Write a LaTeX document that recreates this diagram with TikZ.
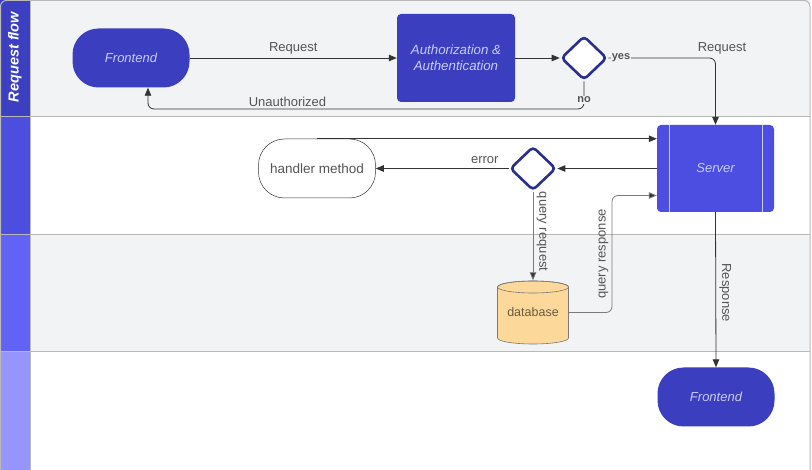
\documentclass[tikz,border=0pt]{standalone}
\usepackage{fontspec}
\setmainfont{Liberation Sans}
\usetikzlibrary{arrows.meta,shapes.geometric,calc}

\definecolor{laneA}{HTML}{3B3FC0}
\definecolor{laneB}{HTML}{4B4EDF}
\definecolor{laneC}{HTML}{6262F7}
\definecolor{laneD}{HTML}{9595FB}
\definecolor{bgGray}{HTML}{F2F3F5}
\definecolor{rule}{HTML}{B8B8B8}
\definecolor{nodeDark}{HTML}{3A3EBF}
\definecolor{nodeServer}{HTML}{4B4EE1}
\definecolor{lavender}{HTML}{CACCF7}
\definecolor{navy}{HTML}{2A2E8C}
\definecolor{ink}{HTML}{333333}
\definecolor{soft}{HTML}{7A7A7A}
\definecolor{labelgray}{HTML}{555555}
\definecolor{dbfill}{HTML}{FDD89B}
\definecolor{dbtext}{HTML}{6B5A3A}

\tikzset{
  pill/.style={rectangle, rounded corners=26pt, minimum width=117pt, minimum height=59pt, inner sep=0pt},
  darkpill/.style={pill, fill=nodeDark, text=lavender, font=\fontsize{13}{15}\selectfont\itshape},
  whitepill/.style={pill, draw=ink, line width=0.5pt, fill=white, text=labelgray, font=\fontsize{13.5}{15}\selectfont},
  taskbox/.style={rectangle, rounded corners=4pt, fill=nodeDark, text=lavender, align=center,
    minimum width=118pt, minimum height=88pt, font=\fontsize{13.3}{16}\selectfont\itshape},
  serverbox/.style={rectangle, rounded corners=4pt, fill=nodeServer, text=lavender,
    minimum width=117pt, minimum height=87pt, font=\fontsize{13}{15}\selectfont\itshape},
  gate/.style={diamond, draw=navy, line width=2.6pt, fill=white, rounded corners=4pt,
    minimum width=46pt, minimum height=44pt, inner sep=0pt},
  arr/.style={draw=ink, line width=0.8pt, -{Triangle[length=8pt,width=6.5pt]}, rounded corners=6pt},
  arrsoft/.style={draw=soft, line width=0.8pt, -{Triangle[length=8pt,width=6.5pt,fill=ink]}, rounded corners=6pt},
  lbl/.style={text=labelgray, font=\fontsize{13}{15}\selectfont},
  yn/.style={text=labelgray, font=\fontsize{11}{13}\selectfont\bfseries, fill=bgGray, inner sep=1pt},
}

\begin{document}
\begin{tikzpicture}[x=1pt, y=-1pt]
\useasboundingbox (0,0) rectangle (812,470);

% lane backgrounds
\fill[bgGray] (0,0) rectangle (810,117);
\fill[white]  (0,117) rectangle (810,235);
\fill[bgGray] (0,235) rectangle (810,352);
\fill[white]  (0,352) rectangle (810,470);

% lane header column
\fill[laneA] (0,0) rectangle (30,117);
\fill[laneB] (0,117) rectangle (30,235);
\fill[laneC] (0,235) rectangle (30,352);
\fill[laneD] (0,352) rectangle (30,470);

% lane rules and frame
\draw[rule, line width=1pt] (0,117) -- (810,117) (0,235) -- (810,235) (0,352) -- (810,352);
\draw[rule, line width=1pt] (30,0) -- (30,470);
\draw[rule, line width=1pt, rounded corners=6pt] (0.5,470) -- (0.5,0.5) -- (810,0.5) -- (810,470);

\node[rotate=90, text=white, font=\fontsize{14.5}{16}\selectfont\bfseries\itshape] (lanetitle) at (15,57) {Request flow};

% nodes
\node[darkpill] (fe1) at (131,58) {Frontend};
\node[taskbox] (auth) at (456,58) {Authorization \&\\Authentication};
\node[gate] (d1) at (584,58) {};
\node[serverbox] (server) at (715.5,168.5) {Server};
\draw[lavender, line width=0.6pt] ($(server.north west)+(12,0)$) -- ($(server.south west)+(12,0)$)
                                  ($(server.north east)+(-12,0)$) -- ($(server.south east)+(-12,0)$);
\node[whitepill] (hm) at (317,168.5) {handler method};
\node[gate] (d2) at (533,168.5) {};
\node[darkpill] (fe2) at (716,397) {Frontend};

% database cylinder
\coordinate (dbc) at (533,312.5);
\filldraw[fill=dbfill, draw=soft, line width=0.6pt]
  ($(dbc)+(-35.5,-25.5)$) -- ($(dbc)+(-35.5,25.5)$)
  arc[start angle=180, end angle=360, x radius=35.5pt, y radius=6pt]
  -- ($(dbc)+(35.5,-25.5)$)
  arc[start angle=0, end angle=180, x radius=35.5pt, y radius=6pt] -- cycle;
\draw[soft, line width=0.6pt] ($(dbc)+(0,-25.5)$) ellipse [x radius=35.5pt, y radius=6pt];
\node[minimum width=71pt, minimum height=64pt, inner sep=0pt, text=dbtext,
      font=\fontsize{12.5}{15}\selectfont] (db) at (dbc) {database};

% connectors: request flow lane
\draw[arr] (fe1.east) -- node[lbl, above=0pt] (reqlbl) {Request} (auth.west);
\draw[arr] (auth.east) -- (d1.west);
\draw[arr] (d1.east) -| (server.north);
\node[yn] (yeslbl) at (621,58) {yes};
\node[lbl] (reqlbl2) at (722,48) {Request};
\coordinate (noturn) at (584,109);
\draw[arr] (d1.south) -- (noturn) -| node[lbl, pos=0.34, above=-1pt] (unauth) {Unauthorized} ([xshift=17pt]fe1.south);
\node[yn] (nolbl) at (584,100) {no};

% connectors: service lane
\draw[arr] (hm.north) -- (hm.north -| server.west);
\draw[arr] (server.west) -- (d2.east);
\draw[arr] (d2.west) -- node[lbl, pos=0.18, above=1pt] (errlbl) {error} (hm.east);
\draw[arrsoft] (d2.south) -- node[lbl, sloped, above=0pt, pos=0.45] (qreq) {query request} (db.north);
\coordinate (qr) at (612,195.5);
\draw[arrsoft] (db.east) -| node[lbl, sloped, above=0pt, pos=0.75] (qres) {query response} (qr) -- (qr -| server.west);
\draw[arr] (server.south) -- node[lbl, sloped, above=0pt, pos=0.52] (resp) {Response} (fe2.north);
\end{tikzpicture}
\end{document}
